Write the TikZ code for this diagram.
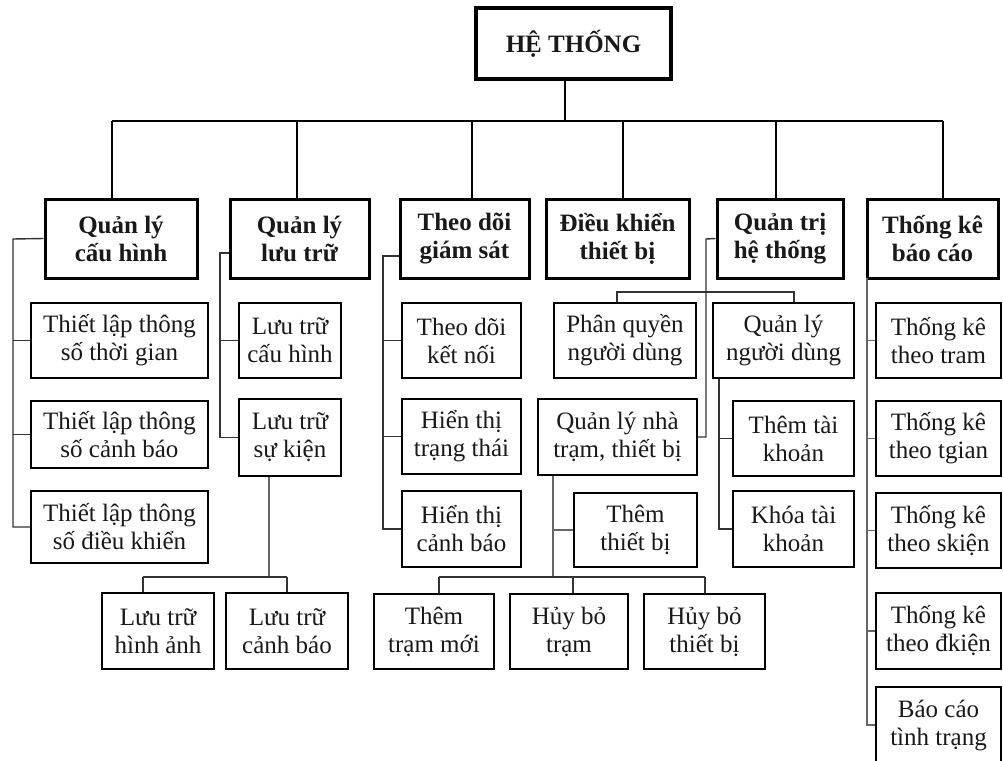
\documentclass[tikz,border=0pt]{standalone}
\usepackage{fontspec}
\setmainfont{Liberation Serif}
\begin{document}
\begin{tikzpicture}[x=1pt,y=-1pt,
  every node/.style={align=center,inner sep=0pt,text=black!90,
    font=\fontsize{25}{28}\selectfont},
  rootbox/.style={draw,line width=3.5pt,font=\fontsize{25}{28}\selectfont\bfseries},
  headbox/.style={draw,line width=3pt,font=\fontsize{25}{28}\selectfont\bfseries},
  leafbox/.style={draw,line width=1.5pt},
  bus/.style={line width=2.4pt},
  link/.style={line width=1.4pt,black!80}]
\clip (0,0) rectangle (1003,760);
\fill[white] (0,0) rectangle (1003,760);

% root
\node[rootbox,minimum width=195,minimum height=71] (root) at (573.5,43.5) {HỆ THỐNG};

% first level
\node[headbox,minimum width=152,minimum height=79] (h1) at (121,238.5)  {Quản lý\\cấu hình};
\node[headbox,minimum width=139,minimum height=79] (h2) at (299.5,238.5) {Quản lý\\lưu trữ};
\node[headbox,minimum width=129,minimum height=79] (h3) at (464.5,238.5) {Theo dõi\\giám sát};
\node[headbox,minimum width=143,minimum height=79] (h4) at (617.5,238.5) {Điều khiển\\thiết bị};
\node[headbox,minimum width=126,minimum height=79] (h5) at (780,238.5)   {Quản trị\\hệ thống};
\node[headbox,minimum width=131,minimum height=79] (h6) at (932.5,238.5) {Thống kê\\báo cáo};

% configuration
\node[leafbox,minimum width=177,minimum height=75] (c1a) at (119.5,340.5) {Thiết lập thông\\số thời gian};
\node[leafbox,minimum width=177,minimum height=67] (c1b) at (119.5,434.5) {Thiết lập thông\\số cảnh báo};
\node[leafbox,minimum width=177,minimum height=72] (c1c) at (119.5,527)   {Thiết lập thông\\số điều khiển};

% storage
\node[leafbox,minimum width=102,minimum height=75] (c2a) at (290,340.5) {Lưu trữ\\cấu hình};
\node[leafbox,minimum width=102,minimum height=77] (c2b) at (290,437.5) {Lưu trữ\\sự kiện};
\node[leafbox,minimum width=112,minimum height=76] (c2c) at (158,631)   {Lưu trữ\\hình ảnh};
\node[leafbox,minimum width=122,minimum height=76] (c2d) at (287,631)   {Lưu trữ\\cảnh báo};

% monitoring
\node[leafbox,minimum width=119,minimum height=75] (c3a) at (461.5,340.5) {Theo dõi\\kết nối};
\node[leafbox,minimum width=119,minimum height=75] (c3b) at (461.5,436.5) {Hiển thị\\trạng thái};
\node[leafbox,minimum width=119,minimum height=76] (c3c) at (461.5,529)   {Hiển thị\\cảnh báo};

% administration
\node[leafbox,minimum width=142,minimum height=75] (c5a) at (625,340.5)   {Phân quyền\\người dùng};
\node[leafbox,minimum width=141,minimum height=75] (c5b) at (783.5,340.5) {Quản lý\\người dùng};
\node[leafbox,minimum width=159,minimum height=76] (c5c) at (617.5,437)   {Quản lý nhà\\trạm, thiết bị};
\node[leafbox,minimum width=121,minimum height=75] (c5d) at (793.5,438.5) {Thêm tài\\khoản};
\node[leafbox,minimum width=121,minimum height=76] (c5e) at (793.5,529)   {Khóa tài\\khoản};
\node[leafbox,minimum width=123,minimum height=74] (c5f) at (635.5,530)   {Thêm\\thiết bị};
\node[leafbox,minimum width=120,minimum height=75] (c5g) at (434,631.5)   {Thêm\\trạm mới};
\node[leafbox,minimum width=118,minimum height=75] (c5h) at (569,631.5)   {Hủy bỏ\\trạm};
\node[leafbox,minimum width=121,minimum height=75] (c5i) at (704.5,631.5) {Hủy bỏ\\thiết bị};

% statistics
\node[leafbox,minimum width=125,minimum height=75] (c6a) at (938.5,340.5) {Thống kê\\theo tram};
\node[leafbox,minimum width=125,minimum height=75] (c6b) at (938.5,438.5) {Thống kê\\theo tgian};
\node[leafbox,minimum width=125,minimum height=75] (c6c) at (938.5,530.5) {Thống kê\\theo skiện};
\node[leafbox,minimum width=125,minimum height=76] (c6d) at (938.5,631)   {Thống kê\\theo đkiện};
\node[leafbox,minimum width=125,minimum height=76] (c6e) at (938.5,725)   {Báo cáo\\tình trạng};

% main bus
\coordinate (j0) at (565,121);
\coordinate (b1) at (112,121);
\coordinate (b2) at (297,121);
\coordinate (b3) at (472,121);
\coordinate (b4) at (623,121);
\coordinate (b5) at (776,121);
\coordinate (b6) at (943,121);
\draw[bus] (root.south -| j0) -- (j0);
\draw[bus] (b1) -- (b6);
\draw[bus] (b1) -- (b1 |- h1.north);
\draw[bus] (b2) -- (b2 |- h2.north);
\draw[bus] (b3) -- (b3 |- h3.north);
\draw[bus] (b4) -- (b4 |- h4.north);
\draw[bus] (b5) -- (b5 |- h5.north);
\draw[bus] (b6) -- (b6 |- h6.north);

% configuration branch
\coordinate (v1) at (13,239);
\draw[link] (h1.west) -- (v1) |- (c1c.west);
\draw[link] (c1a.west) -- (c1a.west -| v1);
\draw[link] (c1b.west) -- (c1b.west -| v1);

% storage branch
\coordinate (v2) at (220,253);
\draw[link] (h2.west |- v2) -- (v2) |- (c2b.west);
\draw[link] (c2a.west) -- (c2a.west -| v2);
\coordinate (s2) at (269,577);
\coordinate (s2a) at (143,577);
\coordinate (s2b) at (287,577);
\draw[link,black!60] (c2b.south -| s2) -- (s2);
\draw[link] (s2a) -- (s2b);
\draw[link] (s2a) -- (s2a |- c2c.north);
\draw[link] (s2b) -- (s2b |- c2d.north);

% monitoring branch
\coordinate (v3) at (383,256);
\draw[link] (h3.west |- v3) -- (v3) |- (c3c.west);
\draw[link] (c3a.west) -- (c3a.west -| v3);
\draw[link] (c3b.west) -- (c3b.west -| v3);

% administration branch
\coordinate (v5) at (706,239);
\draw[link] (h5.west) -- (v5) |- (c5c.east);
\coordinate (p5a) at (617,292);
\coordinate (p5b) at (794,292);
\draw[link] (p5a |- c5a.north) -- (p5a) -- (p5b) -- (p5b |- c5b.north);
\coordinate (v5b) at (719,378);
\draw[link] (c5b.south -| v5b) |- (c5e.west);
\draw[link] (c5d.west) -- (c5d.west -| v5b);
\coordinate (v5c) at (553,577);
\draw[link,black!60] (c5c.south -| v5c) -- (v5c);
\draw[link,black!60] (c5f.west) -- (c5f.west -| v5c);
\coordinate (q1) at (439,577);
\coordinate (q2) at (573,577);
\coordinate (q3) at (705,577);
\draw[link] (q1) -- (q3);
\draw[link] (q1) -- (q1 |- c5g.north);
\draw[link] (q2) -- (q2 |- c5h.north);
\draw[link] (q3) -- (q3 |- c5i.north);

% statistics branch
\coordinate (v6) at (867,278);
\draw[link,black!60] (v6) |- (c6e.west);
\draw[link,black!60] (c6a.west) -- (c6a.west -| v6);
\draw[link,black!60] (c6b.west) -- (c6b.west -| v6);
\draw[link,black!60] (c6c.west) -- (c6c.west -| v6);
\draw[link,black!60] (c6d.west) -- (c6d.west -| v6);
\end{tikzpicture}
\end{document}
